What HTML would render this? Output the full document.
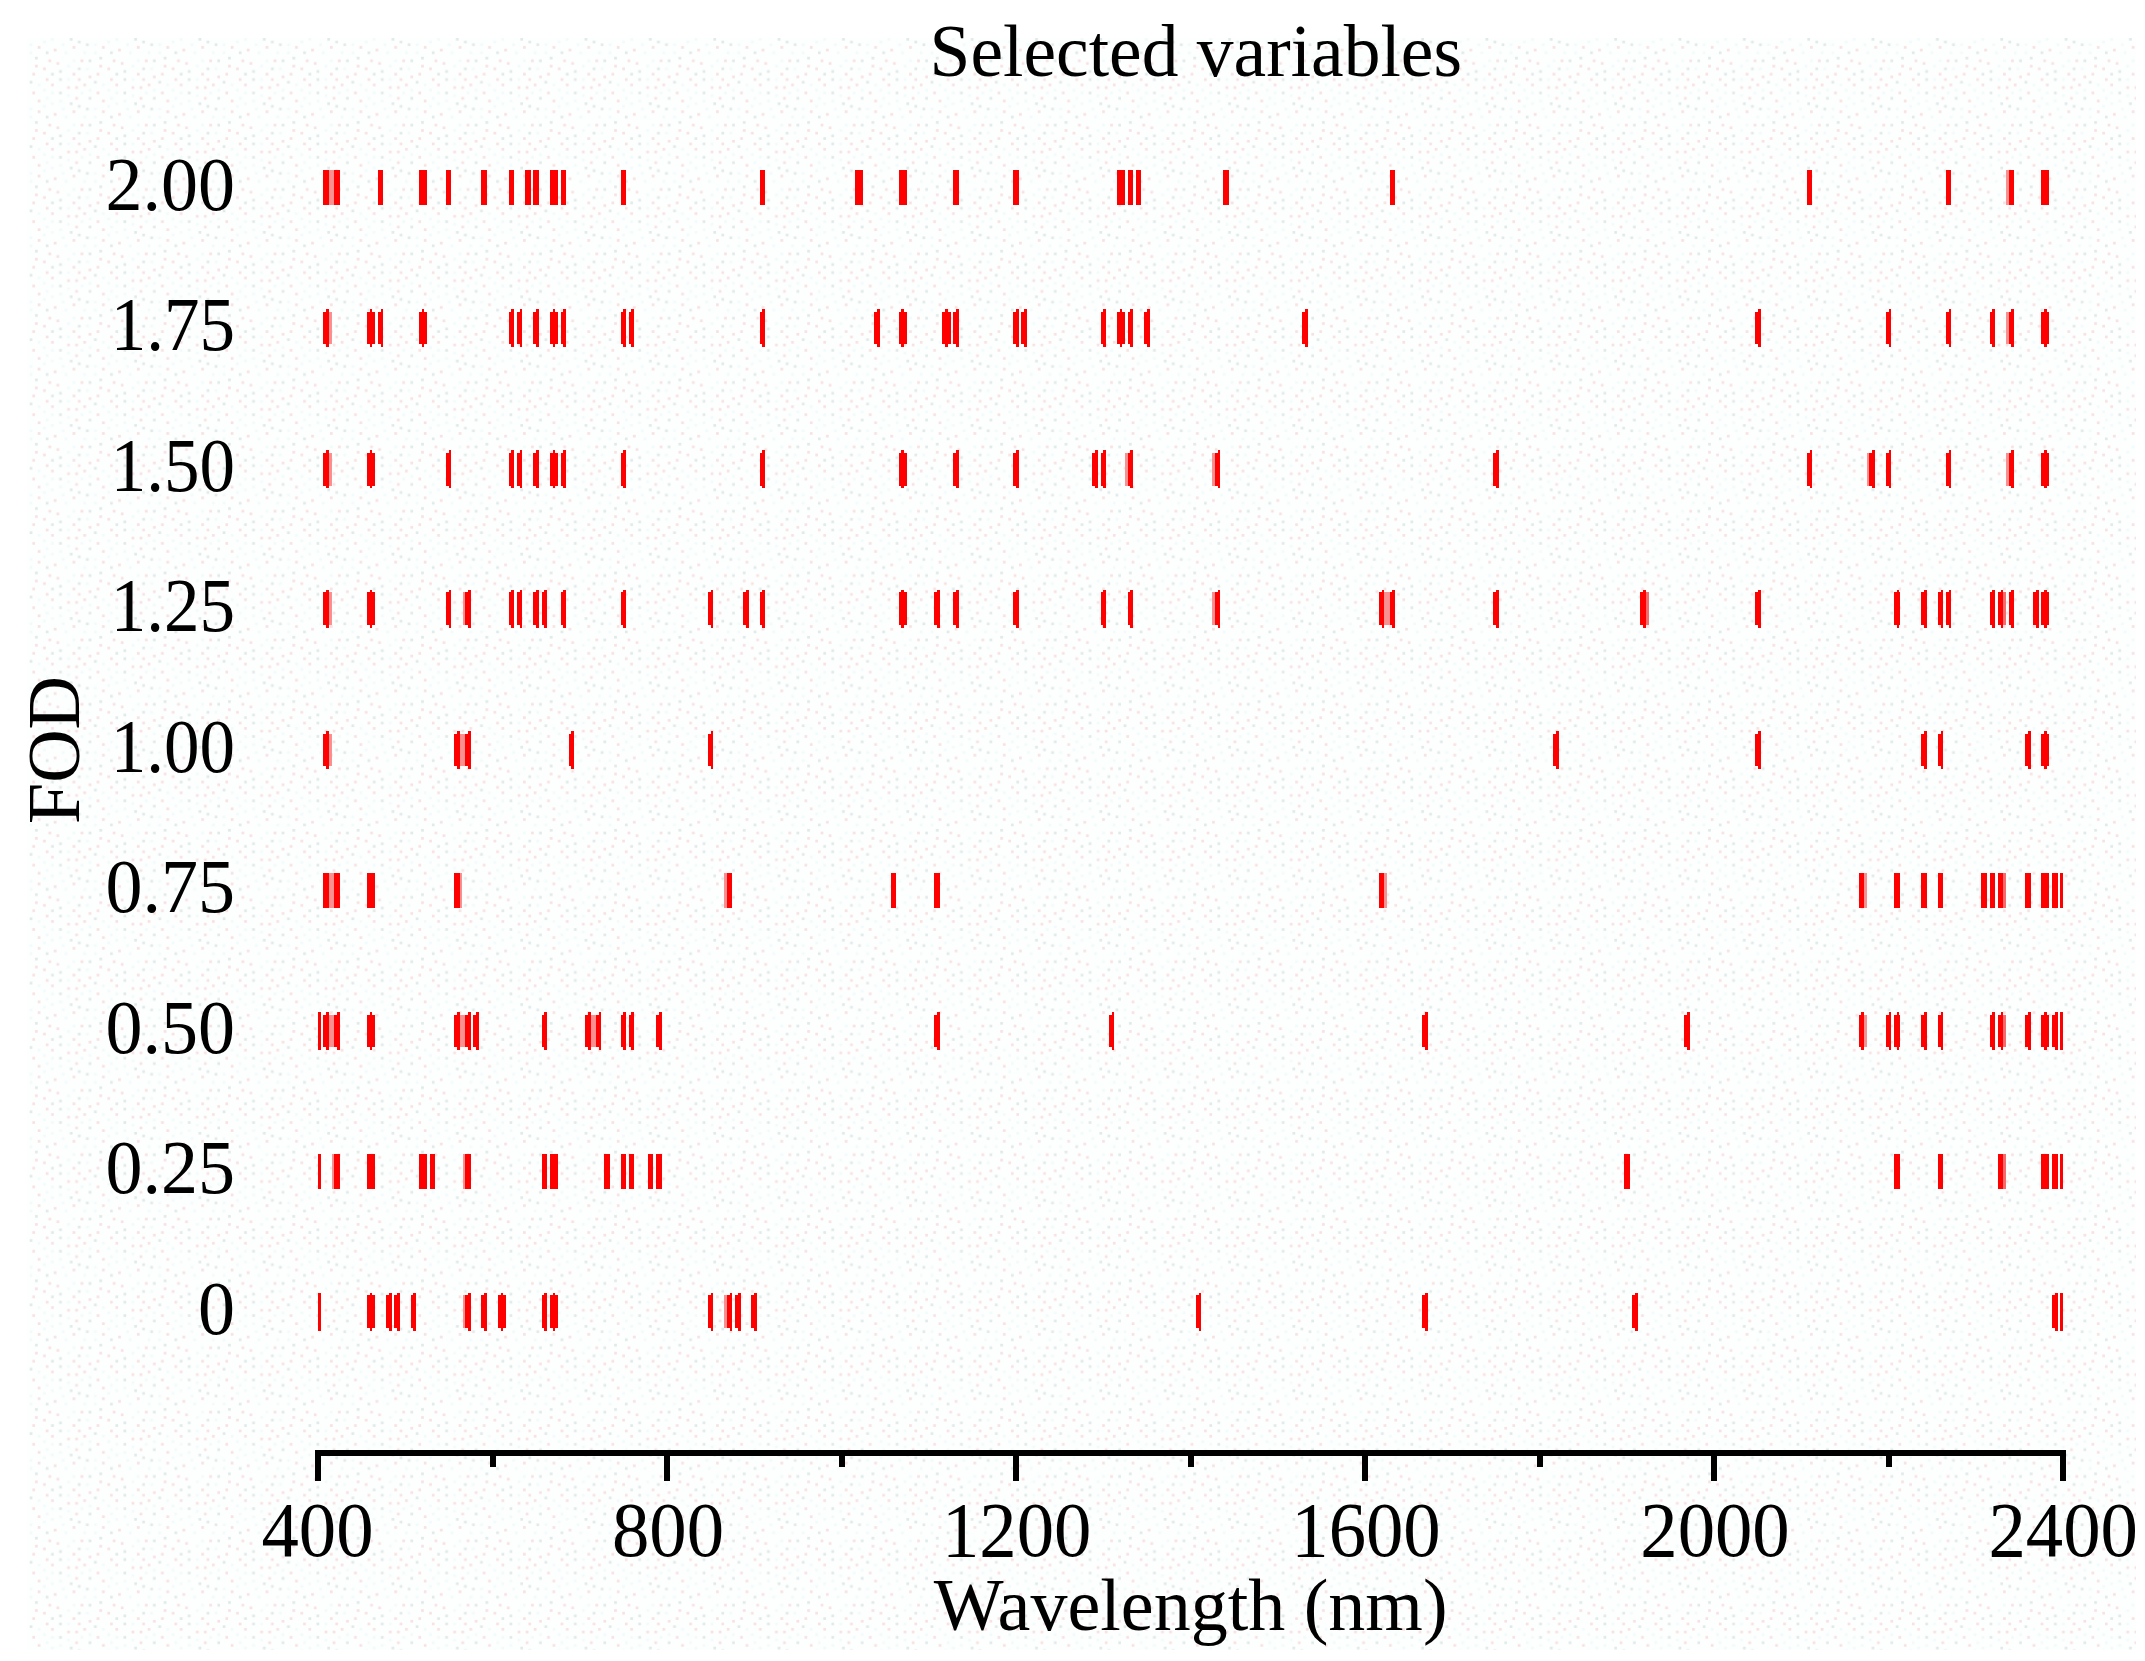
<!DOCTYPE html>
<html lang="en"><head><meta charset="utf-8"><title>Selected variables</title>
<style>
html,body{margin:0;padding:0;background:#fff;}
body{width:2145px;height:1661px;overflow:hidden;}
svg{display:block;position:absolute;left:0;top:0;}
text{font-family:"Liberation Serif","Times New Roman",Times,serif;fill:#000;}
</style></head><body>
<svg width="2145" height="1661" viewBox="0 0 2145 1661">
<defs>
<pattern id="dots" x="27" y="38" width="64.35" height="64.35" patternUnits="userSpaceOnUse">
<rect x="26.81" y="10.72" width="2.68" height="2.68" fill="#f8e1e1"/>
<rect x="32.17" y="53.62" width="2.68" height="2.68" fill="#e0eae8"/>
<rect x="2.68" y="5.36" width="2.68" height="2.68" fill="#f1fbfb"/>
<rect x="45.58" y="8.04" width="2.68" height="2.68" fill="#f8e1e1"/>
<rect x="2.68" y="42.90" width="2.68" height="2.68" fill="#e0eae8"/>
<rect x="16.09" y="2.68" width="2.68" height="2.68" fill="#f1fbfb"/>
<rect x="5.36" y="34.86" width="2.68" height="2.68" fill="#f8e1e1"/>
<rect x="34.86" y="5.36" width="2.68" height="2.68" fill="#f1fbfb"/>
<rect x="45.58" y="34.86" width="2.68" height="2.68" fill="#f8e1e1"/>
<rect x="8.04" y="18.77" width="2.68" height="2.68" fill="#e0eae8"/>
<rect x="53.62" y="53.62" width="2.68" height="2.68" fill="#f1fbfb"/>
<rect x="48.26" y="48.26" width="2.68" height="2.68" fill="#f8e1e1"/>
<rect x="24.13" y="34.86" width="2.68" height="2.68" fill="#e0eae8"/>
<rect x="10.72" y="45.58" width="2.68" height="2.68" fill="#f1fbfb"/>
<rect x="24.13" y="45.58" width="2.68" height="2.68" fill="#f8e1e1"/>
<rect x="56.31" y="13.41" width="2.68" height="2.68" fill="#f1fbfb"/>
<rect x="16.09" y="29.49" width="2.68" height="2.68" fill="#f8e1e1"/>
<rect x="58.99" y="5.36" width="2.68" height="2.68" fill="#e0eae8"/>
<rect x="40.22" y="56.31" width="2.68" height="2.68" fill="#f1fbfb"/>
<rect x="29.49" y="24.13" width="2.68" height="2.68" fill="#f8e1e1"/>
<rect x="18.77" y="13.41" width="2.68" height="2.68" fill="#e0eae8"/>
<rect x="40.22" y="26.81" width="2.68" height="2.68" fill="#f1fbfb"/>
<rect x="61.67" y="37.54" width="2.68" height="2.68" fill="#f8e1e1"/>
<rect x="58.99" y="29.49" width="2.68" height="2.68" fill="#f1fbfb"/>
<rect x="50.94" y="40.22" width="2.68" height="2.68" fill="#f8e1e1"/>
<rect x="61.67" y="58.99" width="2.68" height="2.68" fill="#e0eae8"/>
<rect x="24.13" y="53.62" width="2.68" height="2.68" fill="#f1fbfb"/>
<rect x="10.72" y="61.67" width="2.68" height="2.68" fill="#f8e1e1"/>
<rect x="32.17" y="40.22" width="2.68" height="2.68" fill="#e0eae8"/>
<rect x="45.58" y="21.45" width="2.68" height="2.68" fill="#f1fbfb"/>
<rect x="40.22" y="48.26" width="2.68" height="2.68" fill="#f8e1e1"/>
<rect x="24.13" y="0.00" width="2.68" height="2.68" fill="#f1fbfb"/>
<rect x="56.31" y="45.58" width="2.68" height="2.68" fill="#f8e1e1"/>
<rect x="32.17" y="32.17" width="2.68" height="2.68" fill="#e0eae8"/>
<rect x="37.54" y="13.41" width="2.68" height="2.68" fill="#f1fbfb"/>
<rect x="8.04" y="26.81" width="2.68" height="2.68" fill="#f8e1e1"/>
<rect x="50.94" y="2.68" width="2.68" height="2.68" fill="#e0eae8"/>
<rect x="16.09" y="50.94" width="2.68" height="2.68" fill="#f1fbfb"/>
<rect x="53.62" y="21.45" width="2.68" height="2.68" fill="#f8e1e1"/>
<rect x="40.22" y="40.22" width="2.68" height="2.68" fill="#f1fbfb"/>
<rect x="10.72" y="8.04" width="2.68" height="2.68" fill="#f8e1e1"/>
<rect x="61.67" y="21.45" width="2.68" height="2.68" fill="#e0eae8"/>
<rect x="32.17" y="61.67" width="2.68" height="2.68" fill="#f1fbfb"/>
<rect x="18.77" y="40.22" width="2.68" height="2.68" fill="#f8e1e1"/>
<rect x="42.90" y="0.00" width="2.68" height="2.68" fill="#e0eae8"/>
<rect x="18.77" y="58.99" width="2.68" height="2.68" fill="#f1fbfb"/>
<rect x="21.45" y="21.45" width="2.68" height="2.68" fill="#f8e1e1"/>
<rect x="2.68" y="13.41" width="2.68" height="2.68" fill="#f1fbfb"/>
<rect x="5.36" y="53.62" width="2.68" height="2.68" fill="#f8e1e1"/>
<rect x="50.94" y="29.49" width="2.68" height="2.68" fill="#e0eae8"/>
<rect x="61.67" y="50.94" width="2.68" height="2.68" fill="#f1fbfb"/>
<rect x="48.26" y="58.99" width="2.68" height="2.68" fill="#f8e1e1"/>
</pattern>
</defs>
<rect x="0" y="0" width="2145" height="1661" fill="#ffffff"/>
<rect x="27" y="38" width="2109" height="1612" fill="#fdfefe"/>
<rect x="27" y="38" width="2109" height="1612" fill="url(#dots)"/>

<g id="bars" fill="#ff0000" shape-rendering="crispEdges">
<rect x="329.0" y="170.0" width="5.4" height="34.7" fill="#fa9090"/>
<rect x="2006.0" y="170.0" width="2.6" height="34.7" fill="#fa9090"/>
<rect x="323.2" y="170.0" width="5.8" height="34.7"/>
<rect x="334.3" y="170.0" width="5.4" height="34.7"/>
<rect x="377.8" y="170.0" width="5.4" height="34.7"/>
<rect x="419.0" y="170.0" width="7.9" height="34.7"/>
<rect x="446.0" y="170.0" width="5.4" height="34.7"/>
<rect x="481.4" y="170.0" width="5.4" height="34.7"/>
<rect x="508.7" y="170.0" width="5.4" height="34.7"/>
<rect x="525.0" y="170.0" width="5.6" height="34.7"/>
<rect x="533.3" y="170.0" width="5.4" height="34.7"/>
<rect x="549.8" y="170.0" width="8.1" height="34.7"/>
<rect x="560.6" y="170.0" width="5.4" height="34.7"/>
<rect x="620.6" y="170.0" width="5.4" height="34.7"/>
<rect x="759.5" y="170.0" width="5.6" height="34.7"/>
<rect x="855.2" y="170.0" width="8.1" height="34.7"/>
<rect x="898.7" y="170.0" width="8.1" height="34.7"/>
<rect x="953.2" y="170.0" width="5.6" height="34.7"/>
<rect x="1013.2" y="170.0" width="5.6" height="34.7"/>
<rect x="1117.0" y="170.0" width="7.9" height="34.7"/>
<rect x="1127.7" y="170.0" width="5.4" height="34.7"/>
<rect x="1135.9" y="170.0" width="5.4" height="34.7"/>
<rect x="1223.1" y="170.0" width="5.6" height="34.7"/>
<rect x="1389.5" y="170.0" width="5.4" height="34.7"/>
<rect x="1806.8" y="170.0" width="5.6" height="34.7"/>
<rect x="1946.0" y="170.0" width="5.4" height="34.7"/>
<rect x="2008.6" y="170.0" width="5.4" height="34.7"/>
<rect x="2041.2" y="170.0" width="8.1" height="34.7"/>
<rect x="329.0" y="311.7" width="2.6" height="32.3" fill="#fa9090"/>
<rect x="2006.0" y="311.7" width="2.6" height="32.3" fill="#fa9090"/>
<rect x="323.2" y="311.7" width="5.8" height="32.3"/>
<rect x="326.3" y="309.0" width="2.7" height="37.7"/>
<rect x="366.9" y="311.7" width="8.1" height="32.3"/>
<rect x="369.6" y="309.0" width="2.7" height="37.7"/>
<rect x="377.8" y="311.7" width="5.4" height="32.3"/>
<rect x="380.5" y="309.0" width="2.7" height="37.7"/>
<rect x="419.0" y="311.7" width="7.9" height="32.3"/>
<rect x="421.6" y="309.0" width="2.7" height="37.7"/>
<rect x="508.7" y="311.7" width="5.4" height="32.3"/>
<rect x="511.3" y="309.0" width="2.7" height="37.7"/>
<rect x="516.8" y="311.7" width="5.4" height="32.3"/>
<rect x="519.5" y="309.0" width="2.7" height="37.7"/>
<rect x="533.3" y="311.7" width="5.4" height="32.3"/>
<rect x="536.0" y="309.0" width="2.7" height="37.7"/>
<rect x="549.8" y="311.7" width="8.1" height="32.3"/>
<rect x="552.6" y="309.0" width="2.7" height="37.7"/>
<rect x="560.6" y="311.7" width="5.4" height="32.3"/>
<rect x="563.2" y="309.0" width="2.7" height="37.7"/>
<rect x="620.6" y="311.7" width="5.4" height="32.3"/>
<rect x="623.3" y="309.0" width="2.7" height="37.7"/>
<rect x="628.8" y="311.7" width="5.4" height="32.3"/>
<rect x="631.4" y="309.0" width="2.7" height="37.7"/>
<rect x="759.5" y="311.7" width="5.6" height="32.3"/>
<rect x="762.4" y="309.0" width="2.7" height="37.7"/>
<rect x="874.2" y="311.7" width="5.4" height="32.3"/>
<rect x="876.9" y="309.0" width="2.7" height="37.7"/>
<rect x="898.7" y="311.7" width="8.1" height="32.3"/>
<rect x="901.4" y="309.0" width="2.7" height="37.7"/>
<rect x="942.2" y="311.7" width="8.4" height="32.3"/>
<rect x="945.1" y="309.0" width="2.7" height="37.7"/>
<rect x="953.2" y="311.7" width="5.6" height="32.3"/>
<rect x="956.0" y="309.0" width="2.7" height="37.7"/>
<rect x="1013.2" y="311.7" width="5.6" height="32.3"/>
<rect x="1016.1" y="309.0" width="2.7" height="37.7"/>
<rect x="1021.4" y="311.7" width="5.4" height="32.3"/>
<rect x="1024.0" y="309.0" width="2.7" height="37.7"/>
<rect x="1100.5" y="311.7" width="5.4" height="32.3"/>
<rect x="1103.2" y="309.0" width="2.7" height="37.7"/>
<rect x="1117.0" y="311.7" width="7.9" height="32.3"/>
<rect x="1119.6" y="309.0" width="2.7" height="37.7"/>
<rect x="1127.7" y="311.7" width="5.4" height="32.3"/>
<rect x="1130.4" y="309.0" width="2.7" height="37.7"/>
<rect x="1144.0" y="311.7" width="5.6" height="32.3"/>
<rect x="1146.9" y="309.0" width="2.7" height="37.7"/>
<rect x="1302.2" y="311.7" width="5.6" height="32.3"/>
<rect x="1305.1" y="309.0" width="2.7" height="37.7"/>
<rect x="1754.9" y="311.7" width="5.6" height="32.3"/>
<rect x="1757.8" y="309.0" width="2.7" height="37.7"/>
<rect x="1885.9" y="311.7" width="5.4" height="32.3"/>
<rect x="1888.6" y="309.0" width="2.7" height="37.7"/>
<rect x="1946.0" y="311.7" width="5.4" height="32.3"/>
<rect x="1948.6" y="309.0" width="2.7" height="37.7"/>
<rect x="1989.5" y="311.7" width="5.6" height="32.3"/>
<rect x="1992.4" y="309.0" width="2.7" height="37.7"/>
<rect x="2008.6" y="311.7" width="5.4" height="32.3"/>
<rect x="2011.2" y="309.0" width="2.7" height="37.7"/>
<rect x="2041.2" y="311.7" width="8.1" height="32.3"/>
<rect x="2043.9" y="309.0" width="2.7" height="37.7"/>
<rect x="329.0" y="452.9" width="2.6" height="32.8" fill="#fa9090"/>
<rect x="1125.4" y="452.9" width="2.4" height="32.8" fill="#fa9090"/>
<rect x="1212.2" y="452.9" width="2.8" height="32.8" fill="#fa9090"/>
<rect x="1866.6" y="452.9" width="2.8" height="32.8" fill="#fa9090"/>
<rect x="2006.0" y="452.9" width="2.6" height="32.8" fill="#fa9090"/>
<rect x="323.2" y="452.9" width="5.8" height="32.8"/>
<rect x="326.3" y="450.2" width="2.7" height="38.2"/>
<rect x="366.9" y="452.9" width="8.1" height="32.8"/>
<rect x="369.6" y="450.2" width="2.7" height="38.2"/>
<rect x="446.0" y="452.9" width="5.4" height="32.8"/>
<rect x="448.7" y="450.2" width="2.7" height="38.2"/>
<rect x="508.7" y="452.9" width="5.4" height="32.8"/>
<rect x="511.3" y="450.2" width="2.7" height="38.2"/>
<rect x="516.8" y="452.9" width="5.4" height="32.8"/>
<rect x="519.5" y="450.2" width="2.7" height="38.2"/>
<rect x="533.3" y="452.9" width="5.4" height="32.8"/>
<rect x="536.0" y="450.2" width="2.7" height="38.2"/>
<rect x="549.8" y="452.9" width="8.1" height="32.8"/>
<rect x="552.6" y="450.2" width="2.7" height="38.2"/>
<rect x="560.6" y="452.9" width="5.4" height="32.8"/>
<rect x="563.2" y="450.2" width="2.7" height="38.2"/>
<rect x="620.6" y="452.9" width="5.4" height="32.8"/>
<rect x="623.3" y="450.2" width="2.7" height="38.2"/>
<rect x="759.5" y="452.9" width="5.6" height="32.8"/>
<rect x="762.4" y="450.2" width="2.7" height="38.2"/>
<rect x="898.7" y="452.9" width="8.1" height="32.8"/>
<rect x="901.4" y="450.2" width="2.7" height="38.2"/>
<rect x="953.2" y="452.9" width="5.6" height="32.8"/>
<rect x="956.0" y="450.2" width="2.7" height="38.2"/>
<rect x="1013.2" y="452.9" width="5.6" height="32.8"/>
<rect x="1016.1" y="450.2" width="2.7" height="38.2"/>
<rect x="1092.3" y="452.9" width="5.4" height="32.8"/>
<rect x="1095.0" y="450.2" width="2.7" height="38.2"/>
<rect x="1100.5" y="452.9" width="5.4" height="32.8"/>
<rect x="1103.2" y="450.2" width="2.7" height="38.2"/>
<rect x="1127.7" y="452.9" width="5.4" height="32.8"/>
<rect x="1130.4" y="450.2" width="2.7" height="38.2"/>
<rect x="1215.0" y="452.9" width="5.4" height="32.8"/>
<rect x="1217.6" y="450.2" width="2.7" height="38.2"/>
<rect x="1493.1" y="452.9" width="5.6" height="32.8"/>
<rect x="1496.0" y="450.2" width="2.7" height="38.2"/>
<rect x="1806.8" y="452.9" width="5.6" height="32.8"/>
<rect x="1809.7" y="450.2" width="2.7" height="38.2"/>
<rect x="1869.4" y="452.9" width="5.6" height="32.8"/>
<rect x="1872.3" y="450.2" width="2.7" height="38.2"/>
<rect x="1885.9" y="452.9" width="5.4" height="32.8"/>
<rect x="1888.6" y="450.2" width="2.7" height="38.2"/>
<rect x="1946.0" y="452.9" width="5.4" height="32.8"/>
<rect x="1948.6" y="450.2" width="2.7" height="38.2"/>
<rect x="2008.6" y="452.9" width="5.4" height="32.8"/>
<rect x="2011.2" y="450.2" width="2.7" height="38.2"/>
<rect x="2041.2" y="452.9" width="8.1" height="32.8"/>
<rect x="2043.9" y="450.2" width="2.7" height="38.2"/>
<rect x="329.0" y="592.4" width="2.6" height="32.4" fill="#fa9090"/>
<rect x="462.6" y="592.4" width="2.6" height="32.4" fill="#fa9090"/>
<rect x="1212.2" y="592.4" width="2.8" height="32.4" fill="#fa9090"/>
<rect x="1384.2" y="592.4" width="5.4" height="32.4" fill="#fa9090"/>
<rect x="323.2" y="592.4" width="5.8" height="32.4"/>
<rect x="326.3" y="589.7" width="2.7" height="37.8"/>
<rect x="366.9" y="592.4" width="8.1" height="32.4"/>
<rect x="369.6" y="589.7" width="2.7" height="37.8"/>
<rect x="446.0" y="592.4" width="5.4" height="32.4"/>
<rect x="448.7" y="589.7" width="2.7" height="37.8"/>
<rect x="465.1" y="592.4" width="5.6" height="32.4"/>
<rect x="468.0" y="589.7" width="2.7" height="37.8"/>
<rect x="508.7" y="592.4" width="5.4" height="32.4"/>
<rect x="511.3" y="589.7" width="2.7" height="37.8"/>
<rect x="516.8" y="592.4" width="5.4" height="32.4"/>
<rect x="519.5" y="589.7" width="2.7" height="37.8"/>
<rect x="533.3" y="592.4" width="5.4" height="32.4"/>
<rect x="536.0" y="589.7" width="2.7" height="37.8"/>
<rect x="541.5" y="592.4" width="5.4" height="32.4"/>
<rect x="544.1" y="589.7" width="2.7" height="37.8"/>
<rect x="560.6" y="592.4" width="5.4" height="32.4"/>
<rect x="563.2" y="589.7" width="2.7" height="37.8"/>
<rect x="620.6" y="592.4" width="5.4" height="32.4"/>
<rect x="623.3" y="589.7" width="2.7" height="37.8"/>
<rect x="707.9" y="592.4" width="5.4" height="32.4"/>
<rect x="710.5" y="589.7" width="2.7" height="37.8"/>
<rect x="743.2" y="592.4" width="5.6" height="32.4"/>
<rect x="746.1" y="589.7" width="2.7" height="37.8"/>
<rect x="759.5" y="592.4" width="5.6" height="32.4"/>
<rect x="762.4" y="589.7" width="2.7" height="37.8"/>
<rect x="898.7" y="592.4" width="8.1" height="32.4"/>
<rect x="901.4" y="589.7" width="2.7" height="37.8"/>
<rect x="934.1" y="592.4" width="5.6" height="32.4"/>
<rect x="937.0" y="589.7" width="2.7" height="37.8"/>
<rect x="953.2" y="592.4" width="5.6" height="32.4"/>
<rect x="956.0" y="589.7" width="2.7" height="37.8"/>
<rect x="1013.2" y="592.4" width="5.6" height="32.4"/>
<rect x="1016.1" y="589.7" width="2.7" height="37.8"/>
<rect x="1100.5" y="592.4" width="5.4" height="32.4"/>
<rect x="1103.2" y="589.7" width="2.7" height="37.8"/>
<rect x="1127.7" y="592.4" width="5.4" height="32.4"/>
<rect x="1130.4" y="589.7" width="2.7" height="37.8"/>
<rect x="1215.0" y="592.4" width="5.4" height="32.4"/>
<rect x="1217.6" y="589.7" width="2.7" height="37.8"/>
<rect x="1378.6" y="592.4" width="5.6" height="32.4"/>
<rect x="1381.5" y="589.7" width="2.7" height="37.8"/>
<rect x="1389.5" y="592.4" width="5.4" height="32.4"/>
<rect x="1392.2" y="589.7" width="2.7" height="37.8"/>
<rect x="1493.1" y="592.4" width="5.6" height="32.4"/>
<rect x="1496.0" y="589.7" width="2.7" height="37.8"/>
<rect x="1640.4" y="592.4" width="8.1" height="32.4"/>
<rect x="1643.1" y="589.7" width="2.7" height="37.8"/>
<rect x="1754.9" y="592.4" width="5.6" height="32.4"/>
<rect x="1757.8" y="589.7" width="2.7" height="37.8"/>
<rect x="1894.1" y="592.4" width="5.4" height="32.4"/>
<rect x="1896.7" y="589.7" width="2.7" height="37.8"/>
<rect x="1921.3" y="592.4" width="5.4" height="32.4"/>
<rect x="1924.0" y="589.7" width="2.7" height="37.8"/>
<rect x="1937.8" y="592.4" width="5.4" height="32.4"/>
<rect x="1940.5" y="589.7" width="2.7" height="37.8"/>
<rect x="1946.0" y="592.4" width="5.4" height="32.4"/>
<rect x="1948.6" y="589.7" width="2.7" height="37.8"/>
<rect x="1989.5" y="592.4" width="5.6" height="32.4"/>
<rect x="1992.4" y="589.7" width="2.7" height="37.8"/>
<rect x="1997.9" y="592.4" width="8.1" height="32.4"/>
<rect x="2000.6" y="589.7" width="2.7" height="37.8"/>
<rect x="2008.6" y="592.4" width="5.4" height="32.4"/>
<rect x="2011.2" y="589.7" width="2.7" height="37.8"/>
<rect x="2033.2" y="592.4" width="5.4" height="32.4"/>
<rect x="2035.9" y="589.7" width="2.7" height="37.8"/>
<rect x="2041.2" y="592.4" width="8.1" height="32.4"/>
<rect x="2043.9" y="589.7" width="2.7" height="37.8"/>
<rect x="329.0" y="734.0" width="2.6" height="32.3" fill="#fa9090"/>
<rect x="459.8" y="734.0" width="5.4" height="32.3" fill="#fa9090"/>
<rect x="323.2" y="734.0" width="5.8" height="32.3"/>
<rect x="326.3" y="731.3" width="2.7" height="37.7"/>
<rect x="454.2" y="734.0" width="5.6" height="32.3"/>
<rect x="457.1" y="731.3" width="2.7" height="37.7"/>
<rect x="465.1" y="734.0" width="5.6" height="32.3"/>
<rect x="468.0" y="731.3" width="2.7" height="37.7"/>
<rect x="568.7" y="734.0" width="5.4" height="32.3"/>
<rect x="571.4" y="731.3" width="2.7" height="37.7"/>
<rect x="707.9" y="734.0" width="5.4" height="32.3"/>
<rect x="710.5" y="731.3" width="2.7" height="37.7"/>
<rect x="1553.1" y="734.0" width="5.6" height="32.3"/>
<rect x="1556.0" y="731.3" width="2.7" height="37.7"/>
<rect x="1754.9" y="734.0" width="5.6" height="32.3"/>
<rect x="1757.8" y="731.3" width="2.7" height="37.7"/>
<rect x="1921.3" y="734.0" width="5.4" height="32.3"/>
<rect x="1924.0" y="731.3" width="2.7" height="37.7"/>
<rect x="1937.8" y="734.0" width="5.4" height="32.3"/>
<rect x="1940.5" y="731.3" width="2.7" height="37.7"/>
<rect x="2025.1" y="734.0" width="5.4" height="32.3"/>
<rect x="2027.8" y="731.3" width="2.7" height="37.7"/>
<rect x="2041.2" y="734.0" width="8.1" height="32.3"/>
<rect x="2043.9" y="731.3" width="2.7" height="37.7"/>
<rect x="329.0" y="873.0" width="5.4" height="35.2" fill="#fa9090"/>
<rect x="459.8" y="873.0" width="2.6" height="35.2" fill="#fa9090"/>
<rect x="724.2" y="873.0" width="2.6" height="35.2" fill="#fa9090"/>
<rect x="1384.2" y="873.0" width="2.8" height="35.2" fill="#fa9090"/>
<rect x="1864.0" y="873.0" width="2.6" height="35.2" fill="#fa9090"/>
<rect x="323.2" y="873.0" width="5.8" height="35.2"/>
<rect x="334.3" y="873.0" width="5.4" height="35.2"/>
<rect x="366.9" y="873.0" width="8.1" height="35.2"/>
<rect x="454.2" y="873.0" width="5.6" height="35.2"/>
<rect x="726.8" y="873.0" width="5.6" height="35.2"/>
<rect x="890.5" y="873.0" width="5.4" height="35.2"/>
<rect x="934.1" y="873.0" width="5.6" height="35.2"/>
<rect x="1378.6" y="873.0" width="5.6" height="35.2"/>
<rect x="1858.5" y="873.0" width="5.6" height="35.2"/>
<rect x="1894.1" y="873.0" width="5.4" height="35.2"/>
<rect x="1921.3" y="873.0" width="5.4" height="35.2"/>
<rect x="1937.8" y="873.0" width="5.4" height="35.2"/>
<rect x="1981.4" y="873.0" width="5.4" height="35.2"/>
<rect x="1989.5" y="873.0" width="5.6" height="35.2"/>
<rect x="1997.9" y="873.0" width="8.1" height="35.2"/>
<rect x="2025.1" y="873.0" width="5.4" height="35.2"/>
<rect x="2041.2" y="873.0" width="8.1" height="35.2"/>
<rect x="2052.1" y="873.0" width="5.4" height="35.2"/>
<rect x="2060.3" y="873.0" width="2.8" height="35.2"/>
<rect x="329.0" y="1014.6" width="5.4" height="32.3" fill="#fa9090"/>
<rect x="459.8" y="1014.6" width="5.4" height="32.3" fill="#fa9090"/>
<rect x="590.6" y="1014.6" width="5.4" height="32.3" fill="#fa9090"/>
<rect x="1864.0" y="1014.6" width="2.6" height="32.3" fill="#fa9090"/>
<rect x="317.8" y="1011.9" width="3.0" height="37.7"/>
<rect x="323.2" y="1014.6" width="5.8" height="32.3"/>
<rect x="326.3" y="1011.9" width="2.7" height="37.7"/>
<rect x="334.3" y="1014.6" width="5.4" height="32.3"/>
<rect x="337.0" y="1011.9" width="2.7" height="37.7"/>
<rect x="366.9" y="1014.6" width="8.1" height="32.3"/>
<rect x="369.6" y="1011.9" width="2.7" height="37.7"/>
<rect x="454.2" y="1014.6" width="5.6" height="32.3"/>
<rect x="457.1" y="1011.9" width="2.7" height="37.7"/>
<rect x="465.1" y="1014.6" width="5.6" height="32.3"/>
<rect x="468.0" y="1011.9" width="2.7" height="37.7"/>
<rect x="473.3" y="1014.6" width="5.4" height="32.3"/>
<rect x="475.9" y="1011.9" width="2.7" height="37.7"/>
<rect x="541.5" y="1014.6" width="5.4" height="32.3"/>
<rect x="544.1" y="1011.9" width="2.7" height="37.7"/>
<rect x="585.0" y="1014.6" width="5.6" height="32.3"/>
<rect x="587.9" y="1011.9" width="2.7" height="37.7"/>
<rect x="595.9" y="1014.6" width="5.4" height="32.3"/>
<rect x="598.6" y="1011.9" width="2.7" height="37.7"/>
<rect x="620.6" y="1014.6" width="5.4" height="32.3"/>
<rect x="623.3" y="1011.9" width="2.7" height="37.7"/>
<rect x="628.8" y="1014.6" width="5.4" height="32.3"/>
<rect x="631.4" y="1011.9" width="2.7" height="37.7"/>
<rect x="656.0" y="1014.6" width="5.6" height="32.3"/>
<rect x="658.9" y="1011.9" width="2.7" height="37.7"/>
<rect x="934.1" y="1014.6" width="5.6" height="32.3"/>
<rect x="937.0" y="1011.9" width="2.7" height="37.7"/>
<rect x="1108.6" y="1014.6" width="5.6" height="32.3"/>
<rect x="1111.5" y="1011.9" width="2.7" height="37.7"/>
<rect x="1422.3" y="1014.6" width="5.6" height="32.3"/>
<rect x="1425.2" y="1011.9" width="2.7" height="37.7"/>
<rect x="1684.1" y="1014.6" width="5.4" height="32.3"/>
<rect x="1686.8" y="1011.9" width="2.7" height="37.7"/>
<rect x="1858.5" y="1014.6" width="5.6" height="32.3"/>
<rect x="1861.3" y="1011.9" width="2.7" height="37.7"/>
<rect x="1885.9" y="1014.6" width="5.4" height="32.3"/>
<rect x="1888.6" y="1011.9" width="2.7" height="37.7"/>
<rect x="1894.1" y="1014.6" width="5.4" height="32.3"/>
<rect x="1896.7" y="1011.9" width="2.7" height="37.7"/>
<rect x="1921.3" y="1014.6" width="5.4" height="32.3"/>
<rect x="1924.0" y="1011.9" width="2.7" height="37.7"/>
<rect x="1937.8" y="1014.6" width="5.4" height="32.3"/>
<rect x="1940.5" y="1011.9" width="2.7" height="37.7"/>
<rect x="1989.5" y="1014.6" width="5.6" height="32.3"/>
<rect x="1992.4" y="1011.9" width="2.7" height="37.7"/>
<rect x="1997.9" y="1014.6" width="8.1" height="32.3"/>
<rect x="2000.6" y="1011.9" width="2.7" height="37.7"/>
<rect x="2025.1" y="1014.6" width="5.4" height="32.3"/>
<rect x="2027.8" y="1011.9" width="2.7" height="37.7"/>
<rect x="2041.2" y="1014.6" width="8.1" height="32.3"/>
<rect x="2043.9" y="1011.9" width="2.7" height="37.7"/>
<rect x="2052.1" y="1014.6" width="5.4" height="32.3"/>
<rect x="2054.8" y="1011.9" width="2.7" height="37.7"/>
<rect x="2060.3" y="1011.9" width="2.8" height="37.7"/>
<rect x="331.5" y="1153.6" width="2.8" height="35.2" fill="#fa9090"/>
<rect x="462.6" y="1153.6" width="2.6" height="35.2" fill="#fa9090"/>
<rect x="317.8" y="1153.6" width="3.0" height="35.2"/>
<rect x="334.3" y="1153.6" width="5.4" height="35.2"/>
<rect x="366.9" y="1153.6" width="8.1" height="35.2"/>
<rect x="419.0" y="1153.6" width="7.9" height="35.2"/>
<rect x="429.5" y="1153.6" width="5.6" height="35.2"/>
<rect x="465.1" y="1153.6" width="5.6" height="35.2"/>
<rect x="541.5" y="1153.6" width="5.4" height="35.2"/>
<rect x="549.8" y="1153.6" width="8.1" height="35.2"/>
<rect x="604.1" y="1153.6" width="5.4" height="35.2"/>
<rect x="620.6" y="1153.6" width="5.4" height="35.2"/>
<rect x="628.8" y="1153.6" width="5.4" height="35.2"/>
<rect x="647.8" y="1153.6" width="5.4" height="35.2"/>
<rect x="656.0" y="1153.6" width="5.6" height="35.2"/>
<rect x="1624.1" y="1153.6" width="5.4" height="35.2"/>
<rect x="1894.1" y="1153.6" width="5.4" height="35.2"/>
<rect x="1937.8" y="1153.6" width="5.4" height="35.2"/>
<rect x="1997.9" y="1153.6" width="8.1" height="35.2"/>
<rect x="2041.2" y="1153.6" width="8.1" height="35.2"/>
<rect x="2052.1" y="1153.6" width="5.4" height="35.2"/>
<rect x="2060.3" y="1153.6" width="2.8" height="35.2"/>
<rect x="462.6" y="1295.3" width="2.6" height="32.8" fill="#fa9090"/>
<rect x="724.2" y="1295.3" width="2.6" height="32.8" fill="#fa9090"/>
<rect x="317.8" y="1292.6" width="3.0" height="38.2"/>
<rect x="366.9" y="1295.3" width="8.1" height="32.8"/>
<rect x="369.6" y="1292.6" width="2.7" height="38.2"/>
<rect x="386.0" y="1295.3" width="5.6" height="32.8"/>
<rect x="388.9" y="1292.6" width="2.7" height="38.2"/>
<rect x="394.1" y="1295.3" width="5.6" height="32.8"/>
<rect x="397.0" y="1292.6" width="2.7" height="38.2"/>
<rect x="410.7" y="1295.3" width="5.4" height="32.8"/>
<rect x="413.3" y="1292.6" width="2.7" height="38.2"/>
<rect x="465.1" y="1295.3" width="5.6" height="32.8"/>
<rect x="468.0" y="1292.6" width="2.7" height="38.2"/>
<rect x="481.4" y="1295.3" width="5.4" height="32.8"/>
<rect x="484.1" y="1292.6" width="2.7" height="38.2"/>
<rect x="497.9" y="1295.3" width="8.1" height="32.8"/>
<rect x="500.7" y="1292.6" width="2.7" height="38.2"/>
<rect x="541.5" y="1295.3" width="5.4" height="32.8"/>
<rect x="544.1" y="1292.6" width="2.7" height="38.2"/>
<rect x="549.8" y="1295.3" width="8.1" height="32.8"/>
<rect x="552.6" y="1292.6" width="2.7" height="38.2"/>
<rect x="707.9" y="1295.3" width="5.4" height="32.8"/>
<rect x="710.5" y="1292.6" width="2.7" height="38.2"/>
<rect x="726.8" y="1295.3" width="5.6" height="32.8"/>
<rect x="729.6" y="1292.6" width="2.7" height="38.2"/>
<rect x="735.1" y="1295.3" width="5.4" height="32.8"/>
<rect x="737.8" y="1292.6" width="2.7" height="38.2"/>
<rect x="751.4" y="1295.3" width="5.6" height="32.8"/>
<rect x="754.3" y="1292.6" width="2.7" height="38.2"/>
<rect x="1195.9" y="1295.3" width="5.4" height="32.8"/>
<rect x="1198.5" y="1292.6" width="2.7" height="38.2"/>
<rect x="1422.3" y="1295.3" width="5.6" height="32.8"/>
<rect x="1425.2" y="1292.6" width="2.7" height="38.2"/>
<rect x="1632.2" y="1295.3" width="5.6" height="32.8"/>
<rect x="1635.1" y="1292.6" width="2.7" height="38.2"/>
<rect x="2052.1" y="1295.3" width="5.4" height="32.8"/>
<rect x="2054.8" y="1292.6" width="2.7" height="38.2"/>
<rect x="2060.3" y="1292.6" width="2.8" height="38.2"/>
<rect x="1645.9" y="592.4" width="2.6" height="32.4" fill="#fb6a6a"/>
<rect x="2003.4" y="592.4" width="2.6" height="32.4" fill="#fb6a6a"/>
<rect x="2003.4" y="873.0" width="2.6" height="35.2" fill="#fb6a6a"/>
<rect x="2003.4" y="1014.6" width="2.6" height="32.3" fill="#fb6a6a"/>
<rect x="2003.4" y="1153.6" width="2.6" height="35.2" fill="#fb6a6a"/>
</g>
<g id="axis" fill="#000" shape-rendering="crispEdges">
<rect x="315.5" y="1450.4" width="1750.4" height="5.5"/>
<rect x="315.4" y="1450.4" width="5.6" height="30.2"/>
<rect x="489.9" y="1450.4" width="5.6" height="16.6"/>
<rect x="664.4" y="1450.4" width="5.6" height="30.2"/>
<rect x="838.9" y="1450.4" width="5.6" height="16.6"/>
<rect x="1013.4" y="1450.4" width="5.6" height="30.2"/>
<rect x="1187.9" y="1450.4" width="5.6" height="16.6"/>
<rect x="1362.4" y="1450.4" width="5.6" height="30.2"/>
<rect x="1536.9" y="1450.4" width="5.6" height="16.6"/>
<rect x="1711.4" y="1450.4" width="5.6" height="30.2"/>
<rect x="1885.9" y="1450.4" width="5.6" height="16.6"/>
<rect x="2060.4" y="1450.4" width="5.6" height="30.2"/>
</g>
<g id="labels" font-size="74">
<text transform="translate(1195.8,75.5) scale(0.993,1.0)" text-anchor="middle" id="title">Selected variables</text>
<text transform="translate(1190.6,1629.6) scale(1.0,1.0)" text-anchor="middle" id="xlabel">Wavelength (nm)</text>
<text transform="translate(317.5,1555.7) scale(1.01,1.05)" text-anchor="middle" class="xt">400</text>
<text transform="translate(668.0,1555.7) scale(1.01,1.05)" text-anchor="middle" class="xt">800</text>
<text transform="translate(1016.7,1555.7) scale(1.01,1.05)" text-anchor="middle" class="xt">1200</text>
<text transform="translate(1366.0,1555.7) scale(1.01,1.05)" text-anchor="middle" class="xt">1600</text>
<text transform="translate(1715.0,1555.7) scale(1.01,1.05)" text-anchor="middle" class="xt">2000</text>
<text transform="translate(2063.2,1555.7) scale(1.01,1.05)" text-anchor="middle" class="xt">2400</text>
<text transform="translate(235.0,209.6) scale(1.0,1.04)" text-anchor="end" class="yt">2.00</text>
<text transform="translate(235.0,350.1) scale(0.96,1.04)" text-anchor="end" class="yt">1.75</text>
<text transform="translate(235.0,490.7) scale(0.96,1.04)" text-anchor="end" class="yt">1.50</text>
<text transform="translate(235.0,631.2) scale(0.96,1.04)" text-anchor="end" class="yt">1.25</text>
<text transform="translate(235.0,771.8) scale(0.96,1.04)" text-anchor="end" class="yt">1.00</text>
<text transform="translate(235.0,912.3) scale(1.0,1.04)" text-anchor="end" class="yt">0.75</text>
<text transform="translate(235.0,1052.8) scale(1.0,1.04)" text-anchor="end" class="yt">0.50</text>
<text transform="translate(235.0,1193.4) scale(1.0,1.04)" text-anchor="end" class="yt">0.25</text>
<text transform="translate(235.0,1333.9) scale(1.0,1.04)" text-anchor="end" class="yt">0</text>
<text id="ylabel" transform="translate(78.8,750) rotate(-90)" text-anchor="middle">FOD</text>
</g>
</svg>
</body></html>
